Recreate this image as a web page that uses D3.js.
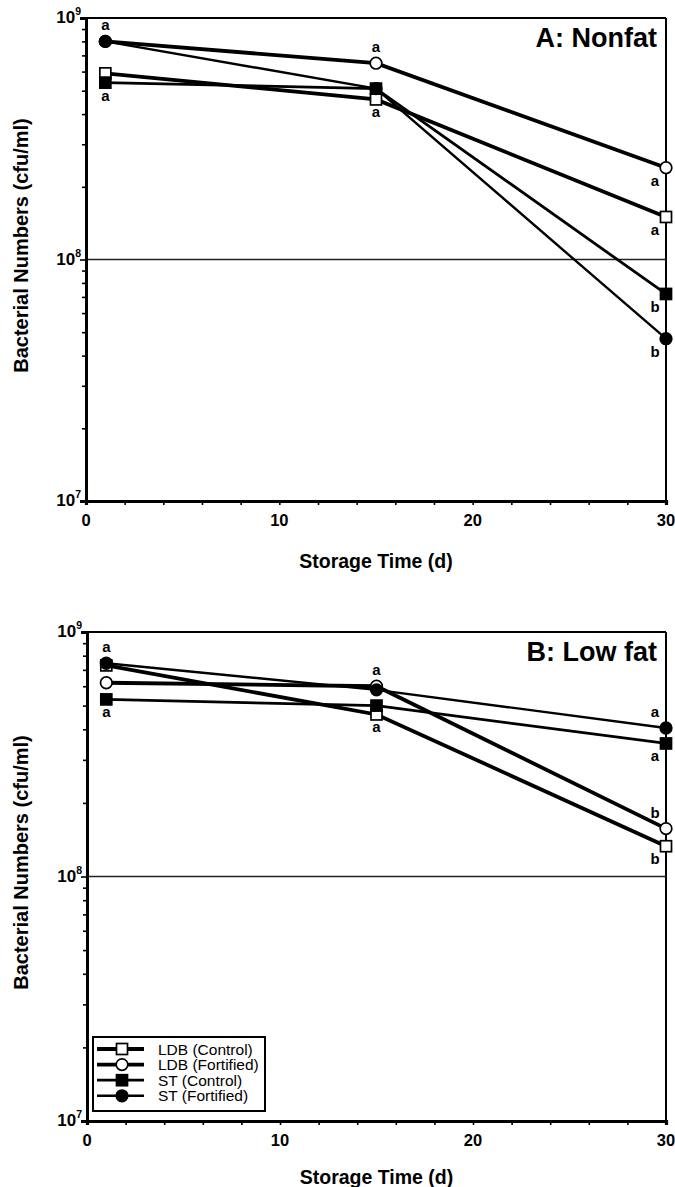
<!DOCTYPE html>
<html><head><meta charset="utf-8">
<script src="https://cdn.jsdelivr.net/npm/d3@7/dist/d3.min.js"></script>
<style>
body{margin:0;background:#fff;}
svg text{font-family:"Liberation Sans",Arial,Helvetica,sans-serif;fill:#000;}
</style></head>
<body><svg id="c" width="675" height="1187"></svg>
<script>
// ---- data ----
const days = [1, 15, 30];
const seriesNames = ["LDB (Control)", "LDB (Fortified)", "ST (Control)", "ST (Fortified)"];
const nonfatLDBControl   = [5.9e8, 4.6e8, 1.5e8];
const nonfatLDBFortified = [8.0e8, 6.5e8, 2.4e8];
const nonfatSTControl    = [5.4e8, 5.1e8, 7.2e7];
const nonfatSTFortified  = [8.0e8, 5.1e8, 4.7e7];
const lowfatLDBControl   = [7.3e8, 4.6e8, 1.33e8];
const lowfatLDBFortified = [6.2e8, 6.0e8, 1.57e8];
const lowfatSTControl    = [5.3e8, 5.0e8, 3.5e8];
const lowfatSTFortified  = [7.45e8, 5.8e8, 4.05e8];
// letters: [series index, day index, letter, above/below]
const nonfatLetters = [[3,0,"a","above"],[2,0,"a","below"],[1,1,"a","above"],[0,1,"a","below"],
  [1,2,"a","below"],[0,2,"a","below"],[2,2,"b","below"],[3,2,"b","below"]];
const lowfatLetters = [[3,0,"a","above"],[2,0,"a","below"],[1,1,"a","above"],[0,1,"a","below"],
  [3,2,"a","above"],[2,2,"a","below"],[1,2,"b","above"],[0,2,"b","below"]];
const xTickMajor = [0, 10, 20, 30];
const yTickMajorExp = [7, 8, 9];
const panelTitles = ["A: Nonfat", "B: Low fat"];
const xTitle = "Storage Time (d)";
const yTitle = "Bacterial Numbers (cfu/ml)";

// ---- styles ----
const symbols = [
  {shape:"square", fill:"#fff", width:3.8},
  {shape:"circle", fill:"#fff", width:3.8},
  {shape:"square", fill:"#000", width:2.8},
  {shape:"circle", fill:"#000", width:2.4}
];
const drawOrder = [1, 0, 3, 2];

const svg = d3.select("#c");

function marker(g, s, x, y) {
  if (s.shape === "square") {
    g.append("rect").attr("x", x-5.5).attr("y", y-5.5).attr("width", 11).attr("height", 11)
      .attr("fill", s.fill).attr("stroke", "#000").attr("stroke-width", 1.7);
  } else {
    g.append("circle").attr("cx", x).attr("cy", y).attr("r", 5.8)
      .attr("fill", s.fill).attr("stroke", "#000").attr("stroke-width", 1.7);
  }
}

function panel(cfg) {
  const {left, right, top, bottom, series, letters, title, legend, xTitleOff} = cfg;
  const g = svg.append("g");
  const x = d3.scaleLinear().domain([0, 30]).range([left, right]);
  const y = d3.scaleLog().domain([1e7, 1e9]).range([bottom, top]);

  // frame top & right
  g.append("line").attr("x1", left).attr("x2", right).attr("y1", top).attr("y2", top)
    .attr("stroke", "#000").attr("stroke-width", 2);
  g.append("line").attr("x1", right).attr("x2", right).attr("y1", top).attr("y2", bottom)
    .attr("stroke", "#000").attr("stroke-width", 2);
  // gridline at 1e8
  g.append("line").attr("x1", left).attr("x2", right).attr("y1", y(1e8)).attr("y2", y(1e8))
    .attr("stroke", "#222").attr("stroke-width", 1.4);

  // y axis
  const minor = [];
  [1e7, 1e8].forEach(d => { for (let k = 2; k <= 9; k++) minor.push(d*k); });
  const yAx = g.append("g").attr("transform", `translate(${left},0)`)
    .call(d3.axisLeft(y).tickValues(minor).tickSize(4).tickFormat(""));
  const yAxMaj = g.append("g").attr("transform", `translate(${left},0)`)
    .call(d3.axisLeft(y).tickValues(yTickMajorExp.map(e => Math.pow(10, e))).tickSize(6).tickFormat(""));
  [yAx, yAxMaj].forEach(a => {
    a.select(".domain").attr("stroke-width", 2.8);
    a.selectAll(".tick line").attr("stroke-width", 1.6);
  });
  yTickMajorExp.forEach(e => {
    const t = g.append("text").attr("x", left - 5).attr("y", y(Math.pow(10, e)) + 5)
      .attr("text-anchor", "end").attr("font-size", 17).attr("font-weight", "bold");
    t.append("tspan").text("10");
    t.append("tspan").attr("dy", -8).attr("font-size", 10.5).text(String(e));
  });

  // x axis
  const xAx = g.append("g").attr("transform", `translate(0,${bottom})`)
    .call(d3.axisBottom(x).tickValues(d3.range(0, 31, 2)).tickSize(4).tickFormat(""));
  xAx.select(".domain").attr("stroke-width", 3.2);
  xAx.selectAll(".tick line").attr("stroke-width", 1.6);
  xTickMajor.forEach(v => {
    g.append("text").attr("x", x(v)).attr("y", bottom + 25).attr("text-anchor", "middle")
      .attr("font-size", 16.5).attr("font-weight", "bold").text(v);
  });

  // axis titles
  g.append("text").attr("x", (left + right)/2).attr("y", bottom + xTitleOff).attr("text-anchor", "middle")
    .attr("font-size", 19.5).attr("font-weight", "bold").text(xTitle);
  g.append("text").attr("transform", `translate(28,${(top + bottom)/2 - 14}) rotate(-90)`)
    .attr("text-anchor", "middle").attr("font-size", 20).attr("font-weight", "bold").text(yTitle);

  // panel title
  g.append("text").attr("x", right - 9).attr("y", top + 29).attr("text-anchor", "end")
    .attr("font-size", 27).attr("font-weight", "bold").text(title);

  // lines
  const line = d3.line().x((d, i) => x(days[i])).y(d => y(d));
  drawOrder.forEach(si => {
    g.append("path").attr("d", line(series[si])).attr("fill", "none")
      .attr("stroke", "#000").attr("stroke-width", symbols[si].width);
  });
  drawOrder.forEach(si => {
    series[si].forEach((v, i) => marker(g, symbols[si], x(days[i]), y(v)));
  });

  // letters
  letters.forEach(([si, di, L, pos]) => {
    const px = x(days[di]) + (di === 2 ? -11 : 0);
    const py = y(series[si][di]) + (pos === "above" ? -11 : 18);
    g.append("text").attr("x", px).attr("y", py).attr("text-anchor", "middle")
      .attr("font-size", 15).attr("font-weight", "bold").text(L);
  });

  if (legend) {
    const lx = 93, ly = 1037;
    g.append("rect").attr("x", lx).attr("y", ly).attr("width", 172).attr("height", 74)
      .attr("fill", "#fff").attr("stroke", "#000").attr("stroke-width", 2);
    seriesNames.forEach((nm, i) => {
      const yy = ly + 12 + i*15.6;
      g.append("line").attr("x1", lx + 4).attr("x2", lx + 51).attr("y1", yy).attr("y2", yy)
        .attr("stroke", "#000").attr("stroke-width", symbols[i].width);
      marker(g, symbols[i], lx + 29, yy);
      g.append("text").attr("x", lx + 65).attr("y", yy + 5.5).attr("font-size", 15.5).text(nm);
    });
  }
}

panel({left: 86, right: 666, top: 18, bottom: 501, xTitleOff: 67,
  series: [nonfatLDBControl, nonfatLDBFortified, nonfatSTControl, nonfatSTFortified],
  letters: nonfatLetters, title: panelTitles[0], legend: false});
panel({left: 87, right: 666, top: 632, bottom: 1121, xTitleOff: 63,
  series: [lowfatLDBControl, lowfatLDBFortified, lowfatSTControl, lowfatSTFortified],
  letters: lowfatLetters, title: panelTitles[1], legend: true});
</script></body></html>
